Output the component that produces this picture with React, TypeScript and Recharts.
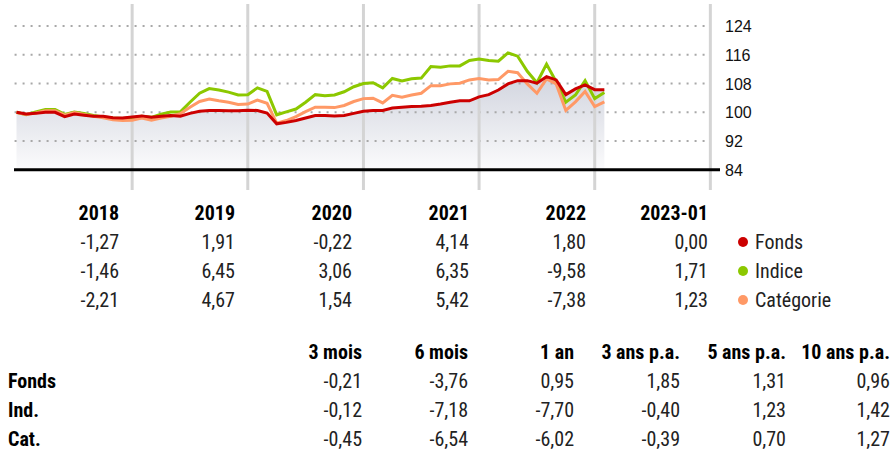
import React from 'react';
import { ComposedChart, Line, Area, XAxis, YAxis, ReferenceLine } from 'recharts';

// monthly points, Dec 2017 .. Jan 2023
const fonds = [
  100.0, 99.5, 99.7, 100.0, 100.0, 98.8, 99.5, 99.2, 98.9, 98.9, 98.5, 98.4,
  98.7, 99.0, 98.6, 98.9, 99.1, 98.9, 99.7, 100.3, 100.5, 100.5, 100.4, 100.4,
  100.6, 100.5, 99.8, 96.8, 97.2, 97.7, 98.4, 99.1, 99.1, 99.0, 99.1, 99.7,
  100.3, 100.5, 100.5, 101.2, 101.4, 101.6, 101.7, 101.9, 102.3, 102.8, 103.2, 103.2,
  104.3, 104.9, 106.2, 107.9, 108.8, 108.8, 108.1, 109.9, 109.0, 104.9, 106.5, 107.6,
  106.3, 106.3,
];
const indice = [
  100.0, 99.3, 100.1, 100.8, 100.8, 99.4, 100.1, 99.7, 99.1, 98.7, 98.4, 98.3,
  98.5, 98.9, 98.6, 99.5, 100.1, 100.1, 102.8, 105.3, 106.6, 106.2, 105.6, 104.8,
  104.9, 106.8, 105.8, 99.3, 100.1, 100.9, 102.8, 104.9, 104.6, 104.8, 105.7, 107.1,
  108.0, 108.2, 106.8, 109.4, 108.7, 109.3, 109.5, 112.7, 112.5, 112.9, 112.9, 114.4,
  114.8, 114.4, 114.2, 116.5, 115.6, 111.4, 108.2, 113.4, 108.5, 102.8, 104.8, 108.8,
  103.8, 105.5,
];
const categorie = [
  99.9, 99.4, 99.8, 100.4, 100.4, 99.2, 99.9, 99.4, 98.9, 98.5, 97.9, 97.7,
  97.8, 98.4, 97.8, 98.4, 98.9, 99.6, 101.4, 103.0, 103.7, 103.2, 102.8, 102.2,
  102.3, 103.4, 102.5, 97.0, 97.7, 98.8, 100.2, 101.4, 101.4, 101.3, 101.9, 103.0,
  103.8, 103.9, 102.6, 104.7, 104.2, 104.8, 105.3, 107.4, 107.4, 107.9, 108.1, 109.0,
  109.4, 109.0, 109.1, 111.4, 111.0, 107.9, 105.3, 109.3, 107.9, 100.5, 102.9, 105.8,
  101.6, 102.9,
];

const yTicks = [84, 92, 100, 108, 116, 124];
const yearEnds = [12, 24, 36, 48, 60, 72];

const years = ['2018', '2019', '2020', '2021', '2022', '2023-01'];
const fondsYear = ['-1,27', '1,91', '-0,22', '4,14', '1,80', '0,00'];
const indiceYear = ['-1,46', '6,45', '3,06', '6,35', '-9,58', '1,71'];
const catYear = ['-2,21', '4,67', '1,54', '5,42', '-7,38', '1,23'];

const periods = ['3 mois', '6 mois', '1 an', '3 ans p.a.', '5 ans p.a.', '10 ans p.a.'];
const fondsPer = ['-0,21', '-3,76', '0,95', '1,85', '1,31', '0,96'];
const indPer = ['-0,12', '-7,18', '-7,70', '-0,40', '1,23', '1,42'];
const catPer = ['-0,45', '-6,54', '-6,02', '-0,39', '0,70', '1,27'];

const RED = '#cc0000';
const GREEN = '#8cc800';
const ORANGE = '#ff9966';

const months: string[] = [];
for (let k = 0; k < fonds.length; k++) {
  const m = (11 + k) % 12;
  const y = 2017 + Math.floor((11 + k) / 12);
  months.push(`${y}-${String(m + 1).padStart(2, '0')}`);
}

const data = months.map((m, i) => ({
  i,
  month: m,
  fonds: fonds[i],
  indice: indice[i],
  categorie: categorie[i],
}));

const condensed = "'Roboto Condensed', 'Liberation Sans Narrow', 'DejaVu Sans Condensed', 'Liberation Sans', sans-serif";

const RightTick = (props: any) => {
  const { x, y, payload } = props;
  return (
    <text x={x - 3} y={y} dy={6} fontSize={16} fill="#111" fontFamily="'Liberation Sans', Arial, sans-serif">
      {payload.value}
    </text>
  );
};

const cell = (right: boolean, bold: boolean): React.CSSProperties => ({
  textAlign: right ? 'right' : 'left',
  fontWeight: bold ? 700 : 400,
  color: bold ? '#000' : '#222',
  whiteSpace: 'nowrap',
});

function Dot({ color }: { color: string }) {
  return (
    <span style={{ display: 'inline-block', width: 10, height: 10, borderRadius: 5, background: color, marginRight: 7, verticalAlign: 'middle', position: 'relative', top: -2 }} />
  );
}

export default function App() {
  const yearCols = '119px 116px 117px 117px 117px 122px 185px';
  const perCols = '256px 106px 106px 106px 106px 106px 104px';
  const legend = [
    { name: 'Fonds', color: RED },
    { name: 'Indice', color: GREEN },
    { name: 'Catégorie', color: ORANGE },
  ];
  const yearRows = [fondsYear, indiceYear, catYear];
  const perRows = [
    { label: 'Fonds', vals: fondsPer },
    { label: 'Ind.', vals: indPer },
    { label: 'Cat.', vals: catPer },
  ];

  return (
    <div style={{ position: 'absolute', left: 0, top: 0, width: 893, height: 450, background: '#fff', fontFamily: condensed, fontSize: 20 }}>
      <div style={{ position: 'absolute', left: 0, top: 0 }}>
        <ComposedChart width={893} height={200} data={data} margin={{ top: 4, right: 0, bottom: 10, left: 14 }}>
          <defs>
            <linearGradient id="fondsFill" x1="0" y1="0" x2="0" y2="1">
              <stop offset="0%" stopColor="#d2d5df" />
              <stop offset="100%" stopColor="#fbfbfc" />
            </linearGradient>
          </defs>
          <XAxis type="number" dataKey="i" domain={[-0.26, 73]} hide />
          <YAxis
            orientation="right"
            width={173}
            domain={[78.4, 130.1]}
            ticks={yTicks}
            axisLine={false}
            tickLine={false}
            tick={<RightTick />}
          />
          {yTicks.slice(1).map((t) => (
            <ReferenceLine
              key={t}
              segment={[{ x: -0.2, y: t }, { x: 71.4, y: t }]}
              stroke="#a8a8a8"
              strokeWidth={2}
              strokeDasharray="2 6"
            />
          ))}
          <Area
            type="linear"
            dataKey="fonds"
            baseValue={84}
            stroke="none"
            fill="url(#fondsFill)"
            fillOpacity={1}
            isAnimationActive={false}
          />
          {yearEnds.map((x) => (
            <ReferenceLine key={x} x={x} stroke="#d4d4d4" strokeWidth={3} />
          ))}
          <ReferenceLine y={84} stroke="#000" strokeWidth={3} />
          <Line type="linear" dataKey="indice" stroke={GREEN} strokeWidth={3} dot={false} isAnimationActive={false} />
          <Line type="linear" dataKey="categorie" stroke={ORANGE} strokeWidth={3} dot={false} isAnimationActive={false} />
          <Line type="linear" dataKey="fonds" stroke={RED} strokeWidth={3} dot={false} isAnimationActive={false} />
        </ComposedChart>
      </div>

      <div style={{ position: 'absolute', left: 0, top: 199, display: 'grid', gridTemplateColumns: yearCols, lineHeight: '29px' }}>
        {years.map((y) => (
          <div key={y} style={cell(true, true)}>{y}</div>
        ))}
        <div />
        {yearRows.map((row, r) => (
          <React.Fragment key={r}>
            {row.map((v, c) => (
              <div key={c} style={cell(true, false)}>{v}</div>
            ))}
            <div style={{ paddingLeft: 30, color: '#222' }}>
              <Dot color={legend[r].color} />
              {legend[r].name}
            </div>
          </React.Fragment>
        ))}
      </div>

      <div style={{ position: 'absolute', left: 0, top: 338, display: 'grid', gridTemplateColumns: perCols, lineHeight: '29px' }}>
        <div />
        {periods.map((p) => (
          <div key={p} style={cell(true, true)}>{p}</div>
        ))}
        {perRows.map((row) => (
          <React.Fragment key={row.label}>
            <div style={{ ...cell(false, true), paddingLeft: 8 }}>{row.label}</div>
            {row.vals.map((v, c) => (
              <div key={c} style={cell(true, false)}>{v}</div>
            ))}
          </React.Fragment>
        ))}
      </div>
    </div>
  );
}
